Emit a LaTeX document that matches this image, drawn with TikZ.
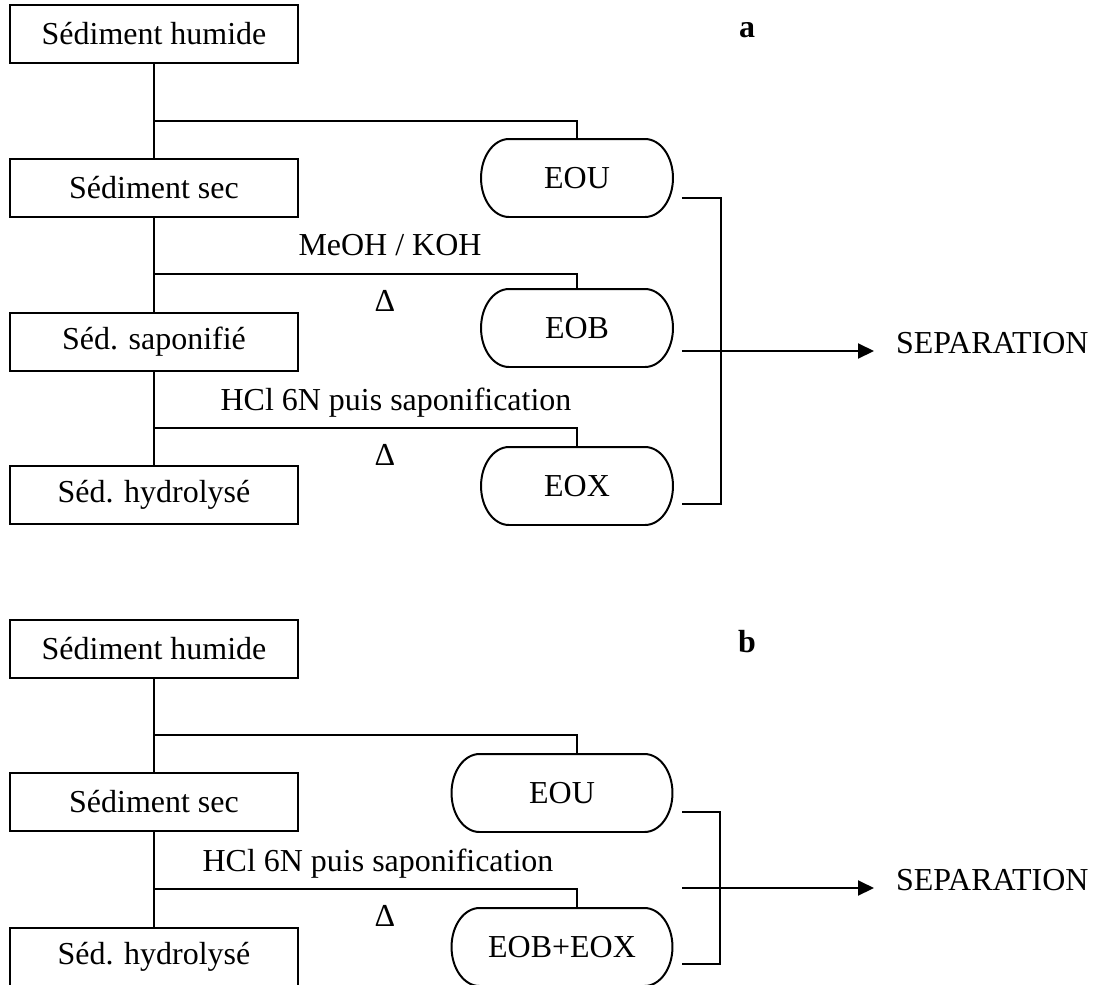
\documentclass[tikz,border=0pt]{standalone}
\usepackage{fontspec}
\setmainfont{Liberation Serif}
\usetikzlibrary{arrows.meta,calc}
\newcommand{\taille}{\fontsize{18.2pt}{22pt}\selectfont}
\begin{document}
\begin{tikzpicture}[x=0.02cm,y=-0.02cm,line width=1.13pt,font=\taille]
  \tikzset{
    etape/.style={draw,rectangle,minimum width=5.78cm,minimum height=1.16cm,inner sep=0pt},
    extrait/.style={rectangle,minimum width=3.84cm,minimum height=1.56cm,inner sep=0pt,outer sep=0pt},
    lettre/.style={font=\taille\bfseries,anchor=base},
    fleche/.style={-{Triangle[length=0.32cm,width=0.3cm]}},
  }
  \useasboundingbox (0,0) rectangle (1098,984);

  %PARTIE A
  \node[etape] (hum) at (154,34) {Sédiment humide};
  \node[etape] (sec) at (154,188) {Sédiment sec};
  \node[etape] (sap) at (154,342) {Séd. saponifié};
  \node[etape] (hyd) at (154,495) {Séd. hydrolysé};
  \node[extrait] (eou) at (577,178) {EOU};
  \node[extrait] (eob) at (577,328) {EOB};
  \node[extrait] (eox) at (577,486) {EOX};
  \node[lettre] (la) at (747,37) {a};

  \draw (hum) -- (sec) -- (sap) -- (hyd);
  \coordinate (k1) at (154,121);
  \coordinate (k2) at (154,274);
  \coordinate (k3) at (154,428);
  \draw (k1) -| (eou);
  \draw (k2) -| (eob);
  \draw (k3) -| (eox);

  \node[anchor=base] (meoh) at (390,255) {MeOH / KOH};
  \node[anchor=base] (dta) at (385,311) {Δ};
  \node[anchor=base] (hcla) at (396,410) {HCl 6N puis saponification};
  \node[anchor=base] (dtb) at (385,465) {Δ};

  % crochet + separation
  \coordinate (ua) at ([shift={(9,20)}]eou.east);
  \coordinate (xa) at ([shift={(9,18)}]eox.east);
  \coordinate (ma) at ($(ua)!0.5!(xa)$);
  \draw (ua) -- ++(39,0) |- (xa);
  \node[anchor=base west,inner xsep=0.42cm,inner ysep=0pt] (sepa) at (874,353) {SEPARATION};
  \draw[fleche] (ma) -- (ma -| sepa.west);

  %PARTIE B
  \node[etape] (humb) at (154,649) {Sédiment humide};
  \node[etape] (secb) at (154,802) {Sédiment sec};
  \node[etape] (hydb) at (154,957) {Séd. hydrolysé};
  \node[extrait,minimum width=4.42cm] (eoub) at (562,793) {EOU};
  \node[extrait,minimum width=4.42cm] (eobx) at (562,947) {EOB+EOX};
  \node[lettre] (lb) at (747,652) {b};

  \draw (humb) -- (secb) -- (hydb);
  \coordinate (kb1) at (154,735);
  \coordinate (kb2) at (154,889);
  \draw (kb1) -| (eoub.north -| eou.north);
  \draw (kb2) -| (eobx.north -| eou.north);

  \node[anchor=base] (hclb) at (378,871) {HCl 6N puis saponification};
  \node[anchor=base] (dtc) at (385,926) {Δ};

  \coordinate (ub) at ([shift={(10,19)}]eoub.east);
  \coordinate (xb) at ([shift={(10,17)}]eobx.east);
  \coordinate (mb) at ($(ub)!0.5!(xb)$);
  \draw (ub) -- ++(38,0) |- (xb);
  \node[anchor=base west,inner xsep=0.42cm,inner ysep=0pt] (sepb) at (874,890) {SEPARATION};
  \draw[fleche] (mb) -- (mb -| sepb.west);

  % contours des extraits
  \foreach \n in {eou,eob,eox,eoub,eobx} {
    \draw ([xshift=0.56cm]\n.north west) -- ([xshift=-0.56cm]\n.north east)
      arc[start angle=90,end angle=-90,x radius=0.56cm,y radius=0.78cm]
      -- ([xshift=0.56cm]\n.south west)
      arc[start angle=270,end angle=90,x radius=0.56cm,y radius=0.78cm] -- cycle;
  }
\end{tikzpicture}
\end{document}
